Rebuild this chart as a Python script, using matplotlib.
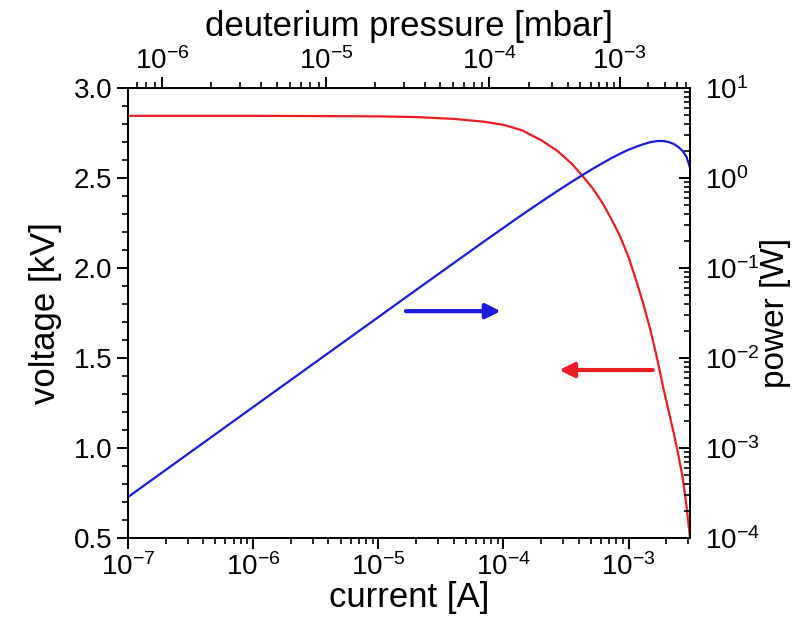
import matplotlib
matplotlib.use("Agg")
import matplotlib.pyplot as plt
import numpy as np
from matplotlib.ticker import MultipleLocator, LogLocator, NullFormatter

plt.rcParams['font.family'] = ['Liberation Sans', 'DejaVu Sans']
plt.rcParams['mathtext.fontset'] = 'custom'
plt.rcParams['mathtext.rm'] = 'Liberation Sans'
plt.rcParams['mathtext.it'] = 'Liberation Sans:italic'
plt.rcParams['mathtext.bf'] = 'Liberation Sans:bold'
plt.rcParams['mathtext.sf'] = 'Liberation Sans'

# Current [A] sample points
current = [1e-7, 1e-6, 1e-5, 2e-5, 4e-5, 7e-5, 1e-4, 1.4e-4, 2e-4, 2.7e-4,
           3.5e-4, 4.3e-4, 5.2e-4, 6.2e-4, 7.3e-4, 8.5e-4, 1e-3, 1.15e-3,
           1.3e-3, 1.5e-3, 1.7e-3, 1.9e-3, 2.1e-3, 2.3e-3, 2.5e-3, 2.7e-3,
           2.9e-3, 3.1e-3]
# Voltage [kV] (red, left axis)
voltage = [2.845, 2.845, 2.842, 2.838, 2.828, 2.812, 2.795, 2.765, 2.71, 2.65,
           2.58, 2.51, 2.44, 2.36, 2.27, 2.18, 2.06, 1.93,
           1.81, 1.65, 1.49, 1.33, 1.20, 1.08, 0.96, 0.84,
           0.68, 0.50]
# Power [W] (blue, right axis)
power = [2.85e-4, 2.85e-3, 2.84e-2, 5.68e-2, 0.113, 0.197, 0.279, 0.387, 0.542, 0.716,
         0.903, 1.08, 1.27, 1.46, 1.66, 1.85, 2.06, 2.22,
         2.36, 2.50, 2.57, 2.57, 2.50, 2.38, 2.20, 2.00,
         1.72, 1.30]

# Calibration: current on bottom axis vs deuterium pressure on top axis
cal_current = [1.0e-7, 1.87e-7, 3.84e-6, 7.73e-5, 8.47e-4, 3.13e-3]
cal_pressure = [6.2e-7, 1e-6, 1e-5, 1e-4, 1e-3, 5.6e-3]
pressure_ticks = [1e-6, 1e-5, 1e-4, 1e-3]


def loginterp(x, xp, fp):
    x = np.asarray(x, dtype=float)
    lx = np.log10(np.clip(x, 1e-300, None))
    lxp = np.log10(xp)
    lfp = np.log10(fp)
    y = np.interp(lx, lxp, lfp)
    lo = lx < lxp[0]
    hi = lx > lxp[-1]
    y = np.where(lo, lfp[0] + (lx - lxp[0]) * (lfp[1] - lfp[0]) / (lxp[1] - lxp[0]), y)
    y = np.where(hi, lfp[-1] + (lx - lxp[-1]) * (lfp[-1] - lfp[-2]) / (lxp[-1] - lxp[-2]), y)
    return 10 ** y


def cur_to_p(x):
    return loginterp(x, cal_current, cal_pressure)


def p_to_cur(x):
    return loginterp(x, cal_pressure, cal_current)


red = '#ec1c24'
blue = '#1a1ae0'

fig = plt.figure(figsize=(7.95, 6.37), dpi=100)
ax = fig.add_axes([0.161, 0.1554, 0.707, 0.7066])

ax.plot(current, voltage, color=red, lw=1.6)
ax.set_xscale('log')
ax.set_xlim(1e-7, 3.1e-3)
ax.set_ylim(0.5, 3.0)
ax.yaxis.set_major_locator(MultipleLocator(0.5))
ax.yaxis.set_minor_locator(MultipleLocator(0.1))
ax.xaxis.set_minor_locator(LogLocator(subs=np.arange(2, 10)))
ax.xaxis.set_minor_formatter(NullFormatter())
ax.set_xlabel('current [A]', fontsize=25, labelpad=0)
ax.set_ylabel('voltage [kV]', fontsize=25, labelpad=8)
ax.tick_params(axis='both', which='major', labelsize=20, length=8, width=1.4, direction='out')
ax.tick_params(axis='both', which='minor', length=4, width=1.2, direction='out')
ax.tick_params(axis='x', pad=3)

ax2 = ax.twinx()
ax2.plot(current, power, color=blue, lw=1.6)
ax2.set_yscale('log')
ax2.set_ylim(1e-4, 1e1)
ax2.yaxis.set_minor_locator(LogLocator(subs=np.arange(2, 10)))
ax2.yaxis.set_minor_formatter(NullFormatter())
ax2.set_ylabel('power [W]', fontsize=24, labelpad=0)
ax2.tick_params(axis='y', which='major', labelsize=20, length=8, width=1.4, direction='in', pad=11)
ax2.tick_params(axis='y', which='minor', length=4, width=1.2, direction='in')

secax = ax.secondary_xaxis('top', functions=(cur_to_p, p_to_cur))
p_lo, p_hi = cal_pressure[0], cur_to_p(3.1e-3)
minor_p = [m * 10.0 ** e for e in range(-7, -1) for m in range(2, 10)]
minor_p = [p for p in minor_p if p_lo <= p <= p_hi]
secax.set_xticks(pressure_ticks)
secax.set_xticks(minor_p, minor=True)
secax.xaxis.set_minor_formatter(NullFormatter())
secax.set_xticklabels([r'$\mathdefault{10^{%d}}$' % int(round(np.log10(p))) for p in pressure_ticks])
secax.set_xlabel('deuterium pressure [mbar]', fontsize=25, labelpad=8)
secax.tick_params(axis='x', which='major', labelsize=20, length=8, width=1.4, direction='out', pad=1)
secax.tick_params(axis='x', which='minor', length=4, width=1.2, direction='out')

for a in (ax, ax2):
    for s in a.spines.values():
        s.set_linewidth(1.4)

# Arrows pointing to each curve's axis
ax.annotate('', xy=(1.0e-4, 1.76), xytext=(1.58e-5, 1.76),
            arrowprops=dict(arrowstyle='-|>', color=blue, lw=3, mutation_scale=22))
ax.annotate('', xy=(2.65e-4, 1.433), xytext=(1.64e-3, 1.433),
            arrowprops=dict(arrowstyle='-|>', color=red, lw=3, mutation_scale=22))

fig.savefig('out.png', dpi=100)
